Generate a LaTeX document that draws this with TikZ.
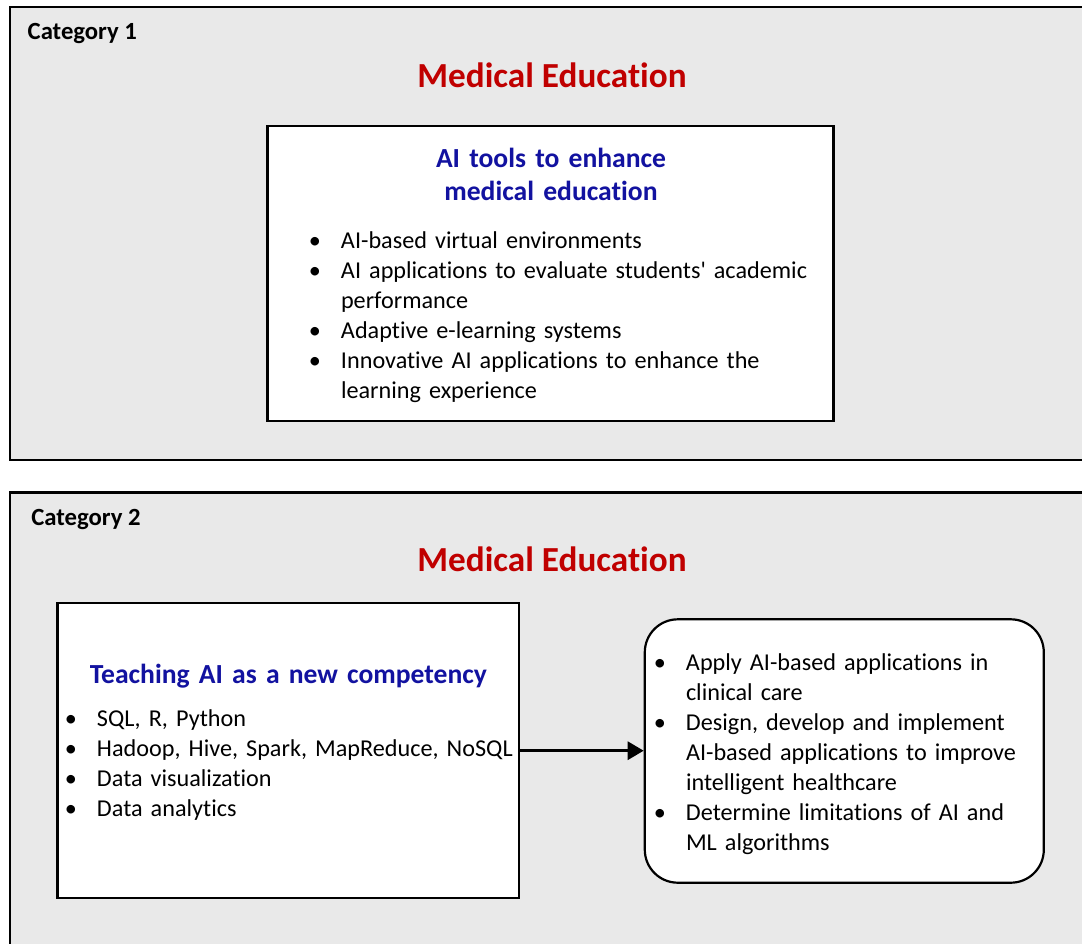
\documentclass[tikz,border=0pt]{standalone}
\usepackage{fontspec}
\setmainfont[Ligatures={TeX,NoCommon}]{Carlito}
\usetikzlibrary{arrows.meta}

\definecolor{catgray}{HTML}{E9E9E9}
\definecolor{titlered}{HTML}{C00000}
\definecolor{headblue}{HTML}{1212A0}

% bullet line and continuation line
\newcommand{\bitem}[1]{\makebox[0pt]{\textbullet}\hspace{13pt}#1}
\newcommand{\bcont}[1]{\hspace*{13pt}#1}

\begin{document}
\begin{tikzpicture}[x=0.5pt,y=-0.5pt,
    catbox/.style={draw=black, line width=1.3pt, fill=catgray},
    itembox/.style={draw=black, line width=1.1pt, fill=white, inner sep=0pt},
    cattext/.style={font=\fontsize{12.35}{15}\selectfont\bfseries, anchor=base west, inner sep=0pt},
    titletext/.style={font=\fontsize{17.6}{21}\selectfont\bfseries, text=titlered, anchor=base, inner sep=0pt},
    headtext/.style={font=\fontsize{13.8}{16.7}\selectfont\bfseries, text=headblue, anchor=base,
        inner sep=0pt, text width=240pt, align=center},
    listtext/.style={font=\fontsize{12.1}{15}\selectfont, anchor=base west, inner sep=0pt, align=left}
  ]
  \clip (0,0) rectangle (1082,943);
  \fill[white] (0,0) rectangle (1082,943);

  % Category 1
  \draw[catbox] (10,7) rectangle (1110,460);
  \node[cattext] (cat1) at (27.3,39.3) {Category 1};
  \node[titletext] (title1) at (552,87) {Medical Education};
  \node[itembox, minimum width=283pt, minimum height=147.5pt] (tools) at (550.5,273.2) {};
  \node[headtext] (toolshead) at (551,167.3) {AI tools to enhance\\medical education};
  \node[listtext, text width=265pt] (toolslist) at (314.6,248) {%
    \bitem{AI-based virtual environments}\\
    \bitem{AI applications to evaluate students\textquotesingle{} academic}\\
    \bcont{performance}\\
    \bitem{Adaptive e-learning systems}\\
    \bitem{Innovative AI applications to enhance the}\\
    \bcont{learning experience}};

  % Category 2
  \draw[catbox] (10,492.7) rectangle (1110,1000);
  \node[cattext] (cat2) at (31,525) {Category 2};
  \node[titletext] (title2) at (552,571.7) {Medical Education};
  \node[itembox, minimum width=230.9pt, minimum height=147.35pt] (teach) at (288.4,750.7) {};
  \node[headtext] (teachhead) at (288.4,683) {Teaching AI as a new competency};
  \node[listtext, text width=240pt] (teachlist) at (70.6,726.7) {%
    \bitem{SQL, R, Python}\\
    \bitem{Hadoop, Hive, Spark, MapReduce, NoSQL}\\
    \bitem{Data visualization}\\
    \bitem{Data analytics}};
  \node[itembox, rounded corners=16.5pt, minimum width=199.5pt, minimum height=131.7pt] (goals) at (844.3,751) {};
  \node[listtext, text width=195pt] (goalslist) at (659.6,670) {%
    \bitem{Apply AI-based applications in}\\
    \bcont{clinical care}\\
    \bitem{Design, develop and implement}\\
    \bcont{AI-based applications to improve}\\
    \bcont{intelligent healthcare}\\
    \bitem{Determine limitations of AI and}\\
    \bcont{ML algorithms}};

  \draw[line width=1.5pt, -{Triangle[length=8pt,width=9pt]}] (teach.east) -- (teach.east -| goals.west);
\end{tikzpicture}
\end{document}
